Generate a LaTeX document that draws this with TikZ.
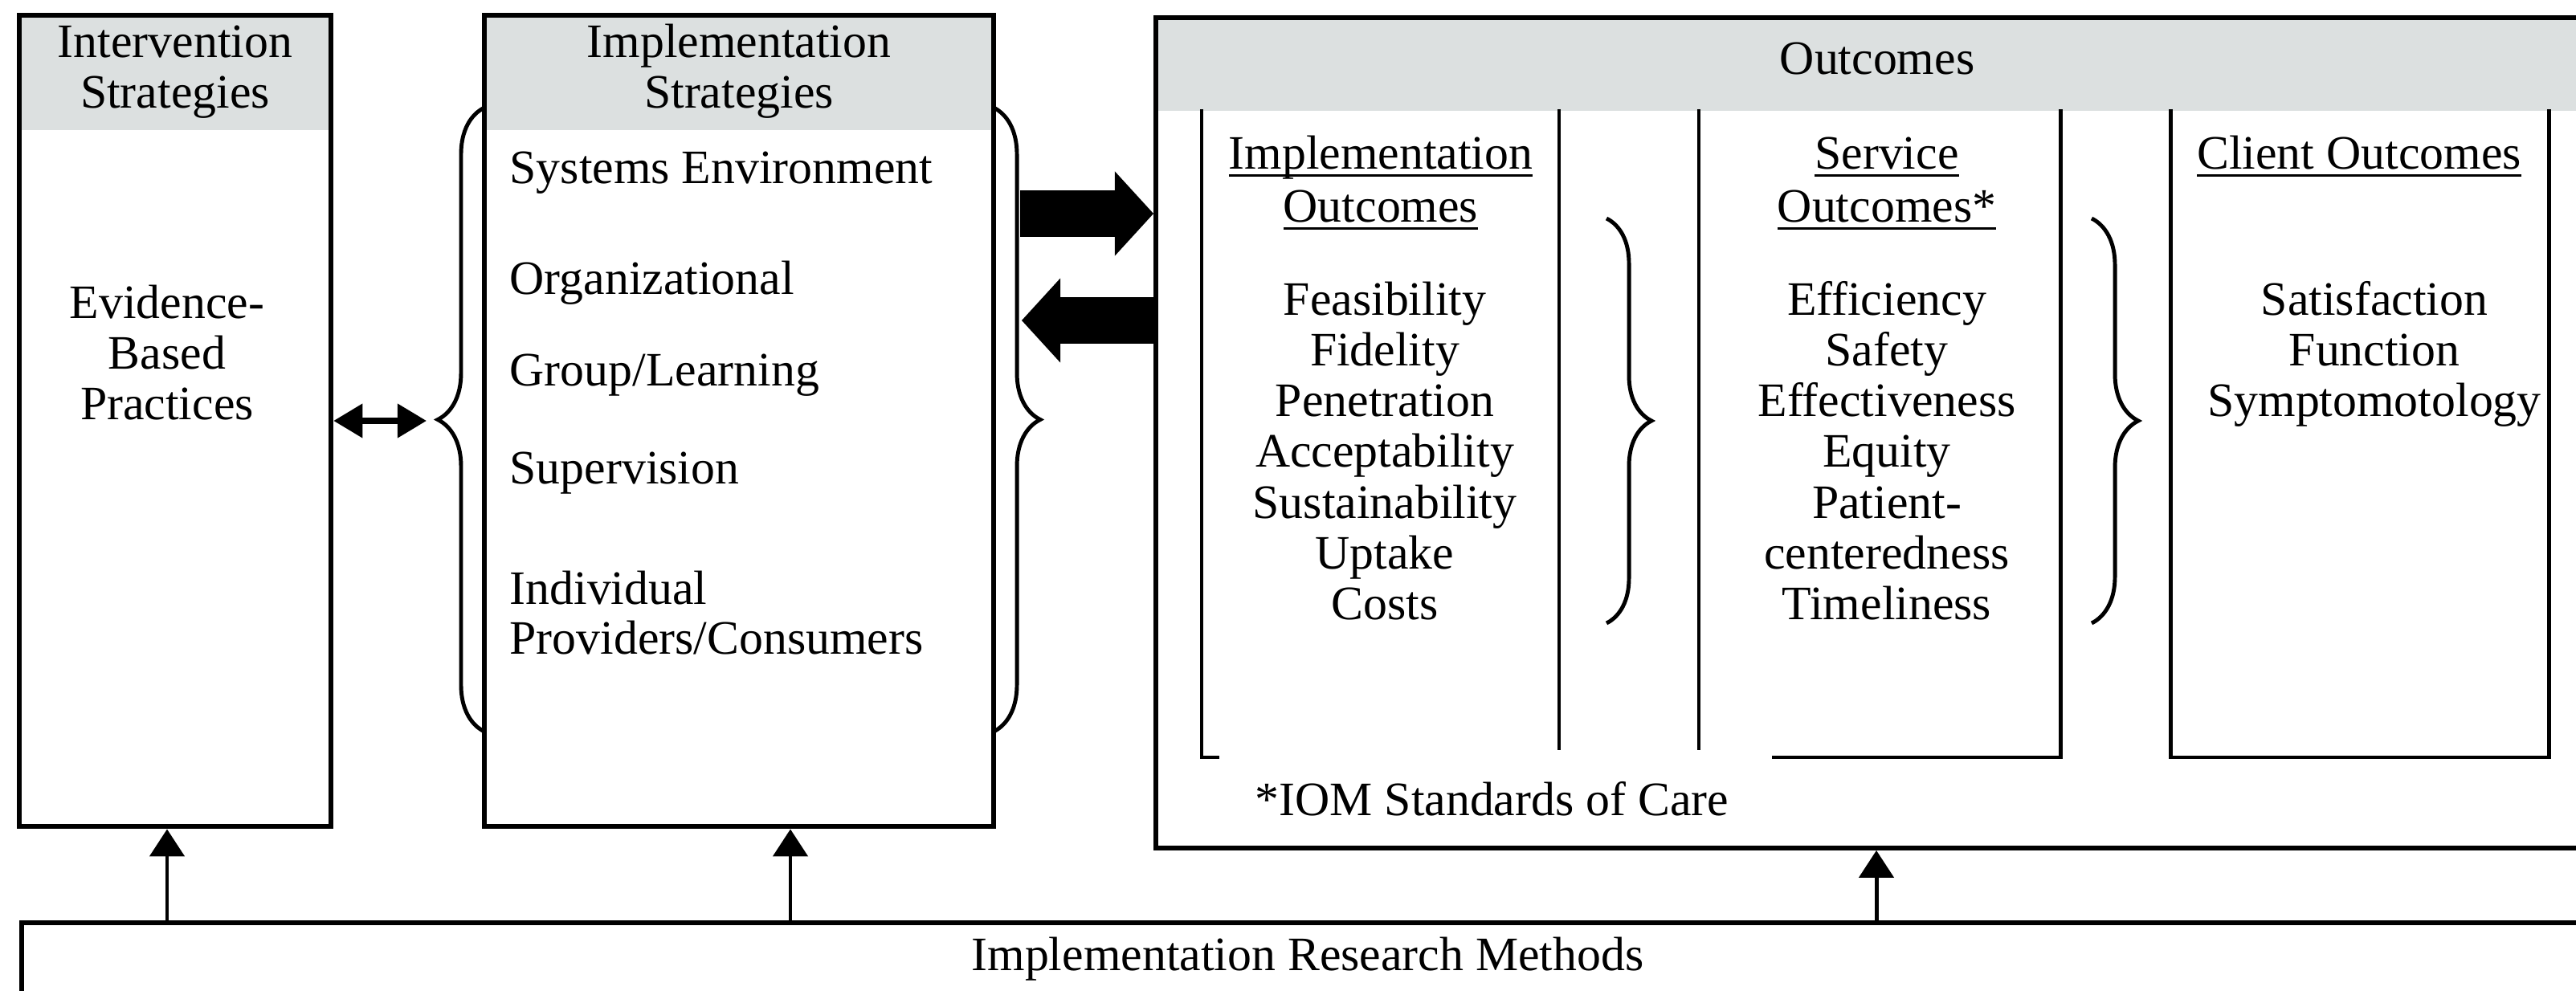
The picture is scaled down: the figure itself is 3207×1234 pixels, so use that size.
\documentclass[tikz,border=0pt]{standalone}
\usepackage{fontspec}
\setmainfont{Liberation Serif}
\usetikzlibrary{arrows.meta,decorations.pathreplacing}

\definecolor{hdrgray}{RGB}{220,224,224}
% underline at a fixed depth below the baseline
\newcommand\ulword[1]{\setbox0\hbox{#1}\rlap{\rule[-2.6pt]{\wd0}{1pt}}\box0}

\tikzset{
  panel/.style={draw, line width=1.8pt, inner sep=0pt},
  txt/.style={anchor=base, inner sep=0pt},
  item/.style={anchor=base west, inner sep=0pt},
  col/.style={line width=1.4pt},
  brc/.style={decorate, decoration={brace, amplitude=#1}, line width=1.4pt},
  bigarrow/.style={line width=5.8mm, -{Triangle[length=4.8mm, width=10.5mm, line width=0pt]}},
  uparrow/.style={line width=1.4pt, -{Triangle[length=3.4mm, width=4.3mm]}},
  dblarrow/.style={line width=2pt, {Triangle[length=3.6mm, width=4.1mm]}-{Triangle[length=3.6mm, width=4.1mm]}},
}

\begin{document}
\begin{tikzpicture}[x=0.01cm, y=-0.01cm, font=\fontsize{17}{18}\selectfont]
\useasboundingbox (0,0) rectangle (3207,1234);
\clip (0,0) rectangle (3207,1234);

% grey title bands
\fill[hdrgray] (24,19) rectangle (412,162);
\fill[hdrgray] (603,19) rectangle (1237,162);
\fill[hdrgray] (1436,19) rectangle (3207,138);

% panels
\node[panel, minimum width=3.88cm, minimum height=10.1cm] (interv) at (218,524) {};
\node[panel, minimum width=6.34cm, minimum height=10.1cm] (implstr) at (920,524) {};
\node[panel, anchor=north west, minimum width=20cm, minimum height=10.33cm] (outc) at (1436,19) {};
\node[panel, anchor=north west, minimum width=35cm, minimum height=3cm] (methods) at (24,1146) {};

% intervention strategies
\foreach \t [count=\i] in {Intervention,Strategies}
  \node[txt] (ivh\i) at (218,9+63*\i) {\t};
\foreach \t [count=\i] in {Evidence-,Based,Practices}
  \node[txt] (ebp\i) at (208,334+63*\i) {\t};

% implementation strategies
\foreach \t [count=\i] in {Implementation,Strategies}
  \node[txt] (ish\i) at (920,9+63*\i) {\t};
\node[item] (sys) at (634,229) {Systems Environment};
\node[item] (org) at (634,367) {Organizational};
\node[item] (grp) at (634,481) {Group/Learning};
\node[item] (sup) at (634,603) {Supervision};
\node[item] (ind1) at (634,752) {Individual};
\node[item] (ind2) at (634,814) {Providers/Consumers};

% outcomes
\node[txt] (outh) at (2337,93) {Outcomes};
\node[txt] (ioh1) at (1719,211) {\ulword{Implementation}};
\node[txt] (ioh2) at (1719,277) {\ulword{Outcomes}};
\node[txt] (soh1) at (2349,211) {\ulword{Service}};
\node[txt] (soh2) at (2349,277) {\ulword{Outcomes*}};
\node[txt] (coh) at (2937,211) {\ulword{Client Outcomes}};
\foreach \t [count=\i] in {Feasibility,Fidelity,Penetration,Acceptability,Sustainability,Uptake,Costs}
  \node[txt] (io\i) at (1724,330+63*\i) {\t};
\foreach \t [count=\i] in {Efficiency,Safety,Effectiveness,Equity,Patient-,centeredness,Timeliness}
  \node[txt] (so\i) at (2349,330+63*\i) {\t};
\foreach \t [count=\i] in {Satisfaction,Function,Symptomotology}
  \node[txt] (co\i) at (2956,330+63*\i) {\t};
\node[item] (iom) at (1562,1015) {*IOM Standards of Care};

\node[txt] (irm) at (1628,1208) {Implementation Research Methods};

% column rules inside outcomes
\draw[col] (1496,136) -- (1496,943) -- (1518,943);
\draw[col] (1941,136) -- (1941,934);
\draw[col] (2115,136) -- (2115,934);
\draw[col] (2206,943) -- (2565,943) -- (2565,136);
\draw[col] (2702,136) -- (2702,943) -- (3173,943) -- (3173,136);

% braces
\draw[brc=5.8mm] (603,911) -- (603,134);
\draw[brc=5.8mm] (1237,134) -- (1237,911);
\draw[brc=5.6mm] (2000,272) -- (2000,776);
\draw[brc=5.8mm] (2604,272) -- (2604,776);

% arrows
\coordinate (brtip) at (531,524);
\draw[dblarrow] (interv.east) -- (brtip);

\coordinate (fwd) at (1270,266);
\coordinate (back) at (1272,399);
\draw[bigarrow] (fwd) -- (fwd -| outc.west);
\draw[bigarrow] (back -| outc.west) -- (back);

\coordinate (m1) at (208,1146);
\coordinate (m2) at (984,1146);
\coordinate (m3) at (2336,1146);
\draw[uparrow] (m1) -- (m1 |- interv.south);
\draw[uparrow] (m2) -- (m2 |- implstr.south);
\draw[uparrow] (m3) -- (m3 |- outc.south);
\end{tikzpicture}
\end{document}
